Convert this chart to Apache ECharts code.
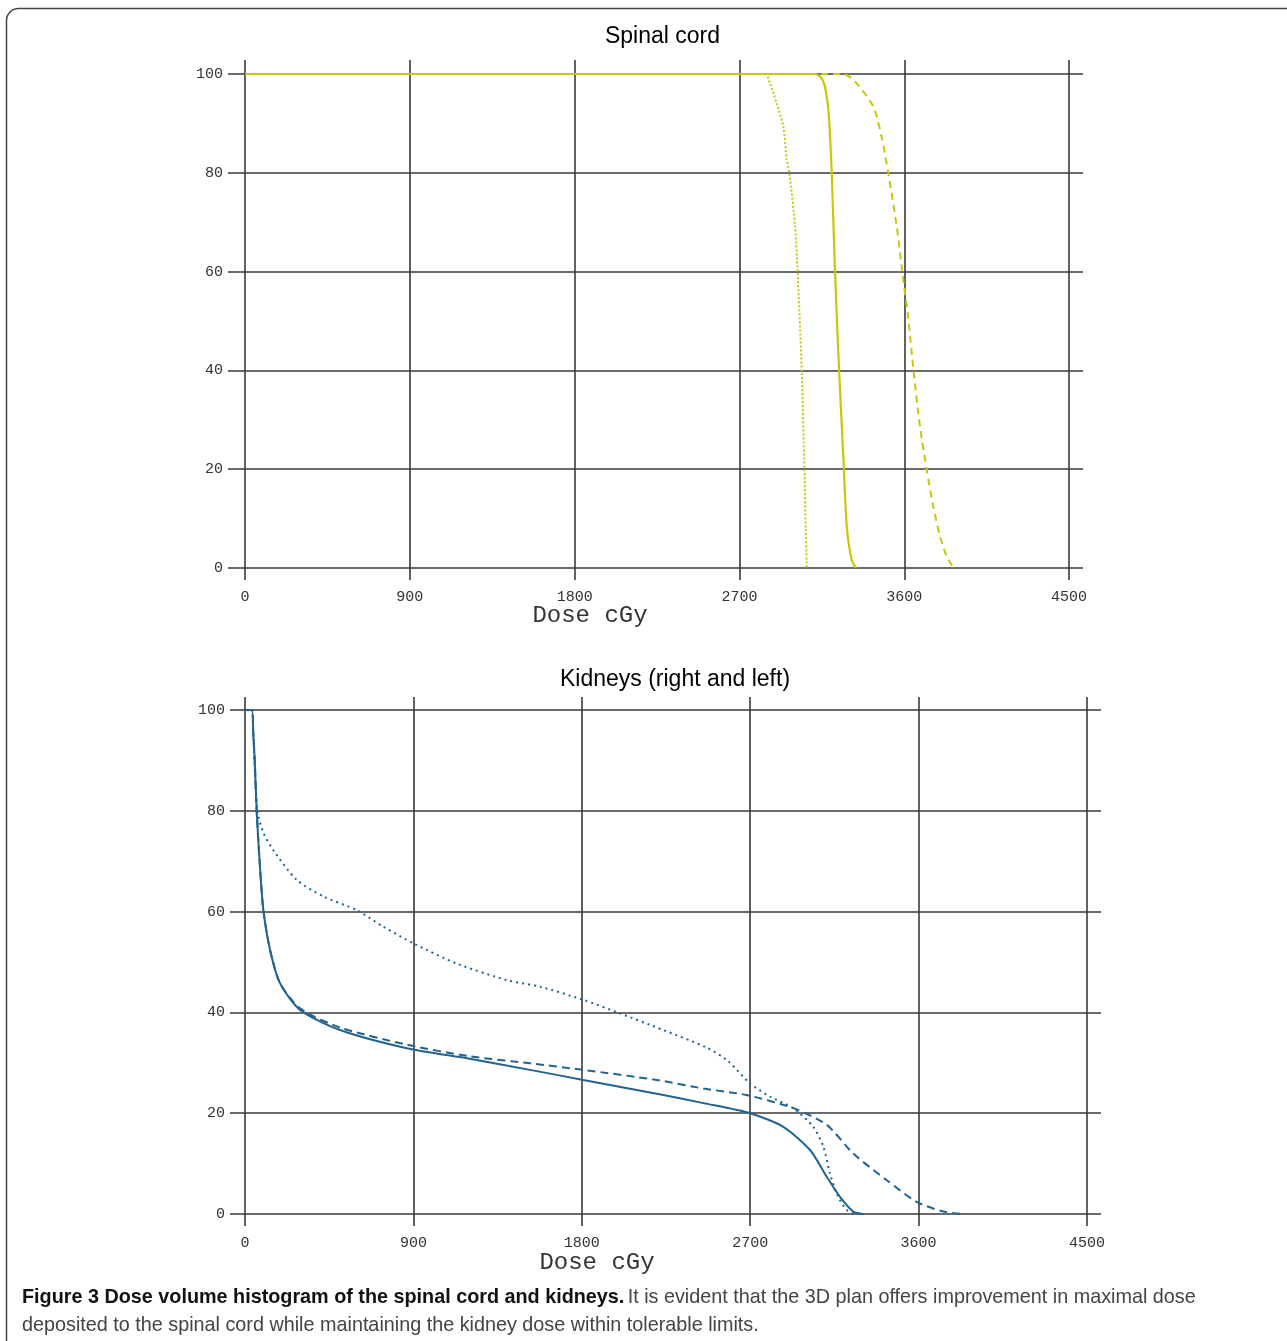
<!DOCTYPE html>
<html><head><meta charset="utf-8">
<script src="https://cdn.jsdelivr.net/npm/echarts@6/dist/echarts.min.js"></script>
<style>html,body{margin:0;padding:0;background:#fff}#c{width:1287px;height:1341px}</style>
</head><body><div id="c"></div><script>
// tick labels
const xTicks = [0, 900, 1800, 2700, 3600, 4500];
const yTicks = [0, 20, 40, 60, 80, 100];

// Spinal cord (dose cGy, volume %)
const cordSolidDose = [0, 3113, 3149, 3167, 3186, 3204, 3222, 3244, 3268, 3286, 3313, 3337];
const cordSolidVol  = [100, 100, 99.1, 97.4, 92.7, 79.9, 59.7, 40.1, 21.9, 8.4, 1.6, 0];
const cordDashDose  = [0, 3268, 3340, 3431, 3476, 3513, 3559, 3590, 3623, 3650, 3686, 3723, 3759, 3796, 3830, 3859, 3870];
const cordDashVol   = [100, 100, 98.1, 93.4, 87.3, 79.9, 69.1, 59.7, 50.2, 40.1, 28.6, 19.8, 12.4, 6.3, 2.5, 0.6, 0];
const cordDotDose   = [0, 2840, 2867, 2903, 2940, 2958, 2973, 3004, 3018, 3040, 3055, 3062, 3067, 3068];
const cordDotVol    = [100, 100, 98.1, 94.1, 89.3, 82.6, 79.9, 69.1, 59.7, 40.1, 19.8, 8, 0.9, 0];

// Kidneys
const kidSolidDose = [0, 36, 44, 52, 62, 80, 98, 134, 187, 294, 508, 864, 1200, 1523, 1808, 2236, 2450, 2699, 2877, 3020, 3109, 3180, 3251, 3305];
const kidSolidVol  = [100, 100, 95.4, 90, 80.2, 68.9, 60.3, 52.4, 45.8, 40.5, 36.5, 32.9, 30.8, 28.6, 26.6, 23.6, 22.0, 20.0, 17.3, 12.7, 7.4, 3.4, 0.5, 0];
const kidDashDose  = [0, 36, 44, 52, 62, 80, 98, 134, 187, 294, 508, 864, 1200, 1523, 1808, 2200, 2449, 2681, 2930, 3109, 3251, 3430, 3590, 3732, 3839];
const kidDashVol   = [100, 100, 95.4, 90, 80.2, 68.9, 60.3, 52.4, 45.8, 40.8, 37, 33.6, 31.3, 29.9, 28.6, 26.6, 24.9, 23.6, 21, 17.7, 12, 6.7, 2.4, 0.5, 0];
const kidDotDose   = [0, 36, 44, 55, 68, 100, 151, 276, 419, 597, 739, 900, 1131, 1399, 1577, 1808, 2004, 2236, 2468, 2580, 2699, 2806, 2930, 3037, 3091, 3126, 3162, 3216, 3287];
const kidDotVol    = [100, 100, 95.4, 86, 79.5, 75.5, 72.2, 66.3, 63, 60.3, 57, 53.7, 49.7, 46.4, 45.1, 42.5, 39.8, 36.5, 33.0, 30.4, 25.9, 23.3, 21, 17.3, 13.4, 8.1, 4.1, 0.8, 0];

const zip = (a, b) => a.map((v, i) => [v, b[i]]);
const YEL = '#c8c80a';
const BLU = '#22638f';
const GRID = '#3a3a3a';
const MONO = '"Liberation Mono", "DejaVu Sans Mono", monospace';
const plain = v => String(v);

function xAx(gi, min, max) {
  return {
    type: 'value', gridIndex: gi, min: min, max: max,
    axisLine: { show: false },
    axisTick: { show: false, customValues: xTicks },
    axisLabel: { customValues: xTicks, formatter: plain, fontFamily: MONO, fontSize: 15, color: '#333', margin: 10 },
    splitLine: { show: true, lineStyle: { color: GRID, width: 1.6 } }
  };
}
function yAx(gi, min, max) {
  return {
    type: 'value', gridIndex: gi, min: min, max: max,
    axisLine: { show: false },
    axisTick: { show: false, customValues: yTicks },
    axisLabel: { customValues: yTicks, formatter: plain, fontFamily: MONO, fontSize: 15, color: '#333', margin: 5 },
    splitLine: { show: true, lineStyle: { color: GRID, width: 1.6 } }
  };
}
function ser(xi, d, color, type, width) {
  return {
    type: 'line', xAxisIndex: xi, yAxisIndex: xi, data: d, showSymbol: false, symbol: 'none',
    smooth: 0.25, lineStyle: { color: color, width: width, type: type }, z: 3
  };
}

const CAP = '"Liberation Sans Narrow", "Liberation Sans", sans-serif';
const chart = echarts.init(document.getElementById('c'), null, { renderer: 'canvas' });
chart.setOption({
  animation: false,
  backgroundColor: '#fff',
  grid: [
    { left: 228, top: 60, width: 855, height: 520 },
    { left: 230, top: 697, width: 871, height: 529 }
  ],
  xAxis: [xAx(0, -92.8, 4576), xAx(1, -80.2, 4575)],
  yAxis: [yAx(0, -2.43, 102.83), yAx(1, -2.38, 102.58)],
  series: [
    ser(0, zip(cordDotDose, cordDotVol), YEL, [2, 2], 2),
    ser(0, zip(cordDashDose, cordDashVol), YEL, [7, 5], 2),
    ser(0, zip(cordSolidDose, cordSolidVol), YEL, 'solid', 2.2),
    ser(1, zip(kidDotDose, kidDotVol), BLU, [2, 4], 2),
    ser(1, zip(kidDashDose, kidDashVol), BLU, [8, 5], 2),
    ser(1, zip(kidSolidDose, kidSolidVol), BLU, 'solid', 2)
  ],
  graphic: [
    { type: 'rect', shape: { x: 6.5, y: 8.5, width: 1320, height: 1360, r: 12 },
      style: { fill: 'none', stroke: '#444', lineWidth: 1.5 }, silent: true },
    { type: 'text', x: 662.5, y: 37, style: { text: 'Spinal cord', font: '23px "Liberation Sans", Arial, sans-serif', fill: '#000', align: 'center', verticalAlign: 'middle' } },
    { type: 'text', x: 675, y: 680, style: { text: 'Kidneys (right and left)', font: '23px "Liberation Sans", Arial, sans-serif', fill: '#000', align: 'center', verticalAlign: 'middle' } },
    { type: 'text', x: 590, y: 616, style: { text: 'Dose cGy', font: '24px ' + MONO, fill: '#333', align: 'center', verticalAlign: 'middle' } },
    { type: 'text', x: 597, y: 1263, style: { text: 'Dose cGy', font: '24px ' + MONO, fill: '#333', align: 'center', verticalAlign: 'middle' } },
    { type: 'text', x: 22, y: 1284, style: {
        text: '{b|Figure 3 Dose volume histogram of the spinal cord and kidneys.} {r|It is evident that the 3D plan offers improvement in maximal dose}\n{r|deposited to the spinal cord while maintaining the kidney dose within tolerable limits.}',
        rich: {
          b: { fontWeight: 'bold', fontSize: 19.8, fontFamily: CAP, fill: '#111', lineHeight: 28 },
          r: { fontSize: 19.8, fontFamily: CAP, fill: '#444', lineHeight: 28 }
        } } }
  ]
});
</script></body></html>
